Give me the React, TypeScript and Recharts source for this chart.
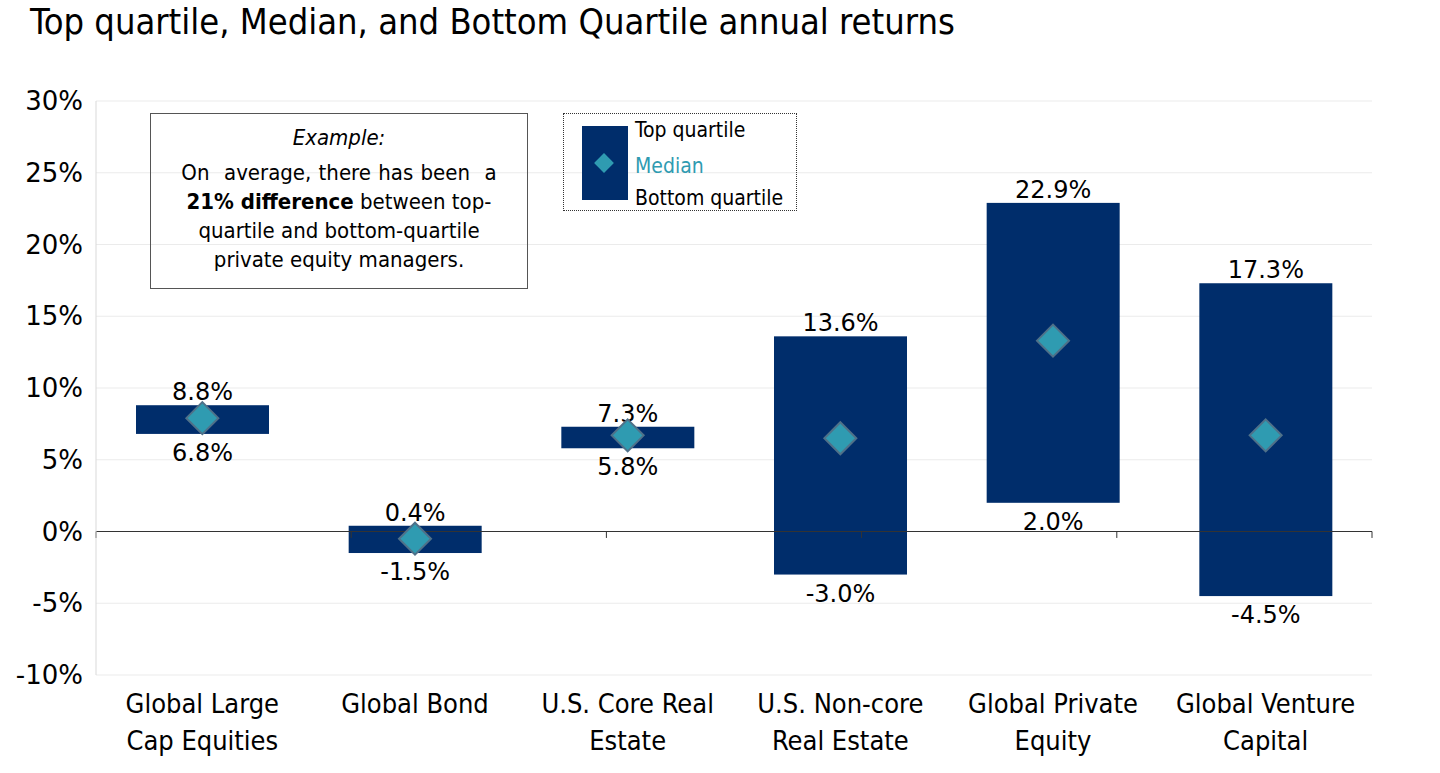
import {
  Bar,
  CartesianGrid,
  ComposedChart,
  Line,
  ReferenceLine,
  XAxis,
  YAxis,
} from 'recharts';

const categories = [
  'Global Large\nCap Equities',
  'Global Bond',
  'U.S. Core Real\nEstate',
  'U.S. Non-core\nReal Estate',
  'Global Private\nEquity',
  'Global Venture\nCapital',
];
const topQuartile = [8.8, 0.4, 7.3, 13.6, 22.9, 17.3];
const bottomQuartile = [6.8, -1.5, 5.8, -3.0, 2.0, -4.5];
const median = [7.9, -0.5, 6.7, 6.5, 13.3, 6.7];
const yTicks = [-10, -5, 0, 5, 10, 15, 20, 25, 30];
const boundaries = [0, 1, 2, 3, 4, 5, 6];

const data = categories.map((name, i) => ({
  name,
  range: [bottomQuartile[i], topQuartile[i]],
  top: topQuartile[i],
  bottom: bottomQuartile[i],
  median: median[i],
}));

const NAVY = '#002d6b';
const TEAL = '#2f9bb1';
const NARROW = "'Liberation Sans Narrow', 'DejaVu Sans Condensed', 'Open Sans', sans-serif";
const WIDE = "'DejaVu Sans', Verdana, sans-serif";

const fmt = (v: number) => `${v.toFixed(1)}%`;

// eslint-disable-next-line @typescript-eslint/no-explicit-any
const RangeShape = (props: any) => {
  const { x, y, width, height, payload } = props;
  const top = Math.min(y, y + height);
  const h = Math.abs(height);
  const cx = x + width / 2;
  return (
    <g>
      <rect x={x} y={top} width={width} height={h} fill={NAVY} />
      <text x={cx} y={top - 5} textAnchor="middle" fontSize={24} fontFamily={WIDE} fill="#000">
        {fmt(payload.top)}
      </text>
      <text x={cx} y={top + h + 27} textAnchor="middle" fontSize={24} fontFamily={WIDE} fill="#000">
        {fmt(payload.bottom)}
      </text>
    </g>
  );
};

// eslint-disable-next-line @typescript-eslint/no-explicit-any
const Diamond = (props: any) => {
  const { cx, cy } = props;
  if (cx == null || cy == null) return null;
  const r = 16;
  return (
    <path
      d={`M${cx},${cy - r} L${cx + r},${cy} L${cx},${cy + r} L${cx - r},${cy} Z`}
      fill={TEAL}
      stroke="#4f7189"
      strokeWidth={2}
    />
  );
};

// eslint-disable-next-line @typescript-eslint/no-explicit-any
const CategoryTick = (props: any) => {
  const { x, y, payload } = props;
  const lines = String(payload.value).split('\n');
  return (
    <text x={x} y={y} textAnchor="middle" fontSize={27} fontFamily={NARROW} fill="#000">
      {lines.map((l, i) => (
        <tspan key={i} x={x} dy={i === 0 ? 30 : 37}>
          {l}
        </tspan>
      ))}
    </text>
  );
};

export default function App() {
  return (
    <div style={{ position: 'absolute', left: 0, top: 0, width: 1440, height: 773, background: '#fff' }}>
      <div
        style={{
          position: 'absolute',
          left: 30,
          top: 1,
          fontFamily: NARROW,
          fontSize: 36,
          color: '#000',
          whiteSpace: 'nowrap',
        }}
      >
        Top quartile, Median, and Bottom Quartile annual returns
      </div>

      <ComposedChart
        width={1440}
        height={773}
        data={data}
        margin={{ top: 101, right: 68, bottom: 0, left: 0 }}
        barCategoryGap={40}
      >
        <CartesianGrid vertical={false} stroke="#ebebeb" />
        <XAxis
          dataKey="name"
          height={98}
          axisLine={false}
          tickLine={false}
          interval={0}
          tick={<CategoryTick />}
        />
        <XAxis xAxisId="b" type="number" domain={[0, 6]} hide />
        <YAxis
          width={96}
          domain={[-10, 30]}
          ticks={yTicks}
          tickFormatter={(v: number) => `${v}%`}
          axisLine={{ stroke: '#d9d9d9' }}
          tickLine={false}
          tick={{ fontSize: 26, fill: '#000', fontFamily: WIDE }}
          tickMargin={7}
        />
        <Bar dataKey="range" shape={<RangeShape />} isAnimationActive={false} />
        <ReferenceLine y={0} stroke="#333" strokeWidth={1} />
        {boundaries.map((b) => (
          <ReferenceLine
            key={b}
            xAxisId="b"
            segment={[
              { x: b, y: 0 },
              { x: b, y: -0.45 },
            ]}
            stroke="#333"
          />
        ))}
        <Line
          dataKey="median"
          stroke="none"
          dot={<Diamond />}
          activeDot={false}
          isAnimationActive={false}
        />
      </ComposedChart>

      {/* Example annotation */}
      <div
        style={{
          position: 'absolute',
          left: 150,
          top: 113,
          width: 378,
          height: 176,
          border: '1px solid #555',
          boxSizing: 'border-box',
          fontFamily: NARROW,
          fontSize: 22,
          lineHeight: '29px',
          textAlign: 'center',
          color: '#000',
          paddingTop: 9,
        }}
      >
        <div style={{ fontStyle: 'italic', marginBottom: 6 }}>Example:</div>
        <div style={{ wordSpacing: 1 }}>On&nbsp; average, there has been&nbsp; a</div>
        <div>
          <b>21% difference</b> between top-
        </div>
        <div>quartile and bottom-quartile</div>
        <div>private equity managers.</div>
      </div>

      {/* Legend */}
      <div
        style={{
          position: 'absolute',
          left: 563,
          top: 113,
          width: 234,
          height: 98,
          border: '1px dotted #333',
          boxSizing: 'border-box',
          fontFamily: NARROW,
          fontSize: 21,
        }}
      >
        <div style={{ position: 'absolute', left: 18, top: 12, width: 46, height: 74, background: NAVY }} />
        <div
          style={{
            position: 'absolute',
            left: 33,
            top: 42,
            width: 14,
            height: 14,
            background: TEAL,
            transform: 'rotate(45deg)',
          }}
        />
        <div style={{ position: 'absolute', left: 71, top: 4, color: '#000' }}>Top quartile</div>
        <div style={{ position: 'absolute', left: 71, top: 40, color: TEAL }}>Median</div>
        <div style={{ position: 'absolute', left: 71, top: 72, color: '#000' }}>Bottom quartile</div>
      </div>
    </div>
  );
}
